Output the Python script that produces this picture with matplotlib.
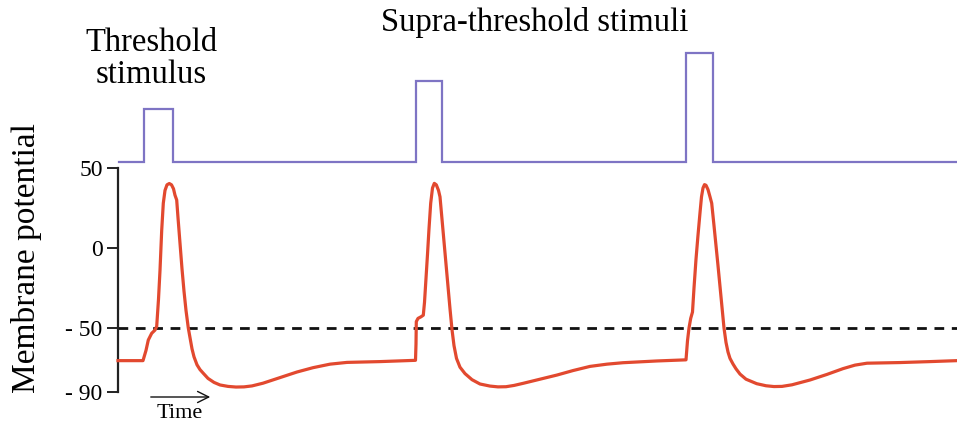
import matplotlib
matplotlib.use("Agg")
import matplotlib.pyplot as plt

plt.rcParams['font.family'] = ['Liberation Serif', 'DejaVu Serif']
plt.rcParams['lines.scale_dashes'] = False

# Membrane potential trace (time in arbitrary units, potential in mV)
time = [118, 143, 146, 148.3, 151.7, 155, 156.7, 158.5, 160, 161.7, 163.3, 165, 167, 169.3, 171.5, 173.5,
        175, 176.7, 178, 180, 182, 184, 186, 188.3, 190, 192, 194, 197, 200, 203.3, 208, 214, 220, 228,
        236, 244, 252, 263, 280, 297, 313, 330, 347, 380, 415.5,
        416, 416.3, 418, 421, 423.3, 424.5, 426, 427.5, 429, 430.7, 432.5, 434.3, 436.3, 438.5, 440,
        442, 444, 446, 448, 450, 452, 454, 456.5, 460, 465, 472, 480, 490, 498, 506, 514, 523, 540, 557,
        573, 590, 607, 623, 657, 686,
        687.5, 689, 690.7, 692.5, 694, 696, 698, 700, 701.5, 703, 704.5, 706, 708, 710, 711.7, 714, 716,
        718, 720, 722, 724, 726, 728, 730, 733, 736, 740, 746, 756.7, 766, 774, 782, 792, 810, 827, 843,
        855, 867, 900, 930, 957]
potential = [-70.4, -70.4, -64, -57.5, -53.3, -51.3, -49, -32, -14, 11, 28, 36, 39.5, 40.3, 39.5, 37,
             33, 30, 19, 3, -13, -27, -39, -50, -56, -63, -68, -73, -76, -78.3, -81.5, -84, -85.6, -86.5,
             -86.9, -86.8, -86.2, -84.5, -81, -77.5, -74.8, -72.6, -71.5, -71, -70.2,
             -60, -46, -44, -43, -42, -34, -19, -4, 12, 28, 37.5, 40.4, 39.5, 36, 32,
             18, 4, -10, -24, -38, -51, -61, -69, -74.5, -78.5, -82.3, -85, -86.3, -86.8, -86.7, -85.9,
             -84.6, -82, -79.4, -76.6, -74, -72.6, -71.7, -70.6, -69.9,
             -58, -50, -44, -40, -25, -7, 8, 22, 32, 37.5, 39.6, 39.2, 36.5, 32, 28, 14, 1.5,
             -11, -24, -37, -50, -59, -65, -69, -72.5, -75.5, -78.8, -82, -84.8, -86.1, -86.6, -86.5,
             -85.5, -82.5, -79, -75.4, -73.2, -72, -71.6, -71, -70.4]

# Stimulus trace
stim_time = [119, 143.5, 143.5, 172.5, 172.5, 416, 416, 441.5, 441.5, 686, 686, 713.3, 713.3, 957]
stim_level = [54, 54, 86.8, 86.8, 54, 54, 104.6, 104.6, 54, 54, 121.8, 121.8, 54, 54]

threshold = -50
yticks = [50, 0, -50, -90]
ytick_labels = ['50', '0', '- 50', '- 90']

fig = plt.figure(figsize=(9.57, 4.25), dpi=100)
ax = fig.add_axes([118 / 957, 33 / 425, 839 / 957, 352 / 425])
ax.set_xlim(118, 957)
ax.set_ylim(-90, 130)

ax.plot(stim_time, stim_level, color='#7E74C4', lw=1.6, solid_joinstyle='miter', clip_on=False)
ax.plot([118, 957], [threshold, threshold], color='#111111', lw=2.0, dashes=(7, 5.5), clip_on=False)
ax.plot(time, potential, color='#E2492F', lw=2.3, clip_on=False, zorder=3)

for s in ['top', 'right', 'bottom']:
    ax.spines[s].set_visible(False)
ax.spines['left'].set_bounds(-90, 50)
ax.spines['left'].set_linewidth(1.6)
ax.spines['left'].set_color('#222222')
ax.set_xticks([])
ax.set_yticks(yticks)
ax.set_yticklabels(ytick_labels, fontsize=17)
ax.tick_params(axis='y', length=8, width=1.4, color='#222222', pad=3)

fig.text(27 / 957, 1 - 258 / 425, 'Membrane potential', rotation=90, ha='center', va='center', fontsize=24)
fig.text(151 / 957, 1 - 59 / 425, 'Threshold\nstimulus', ha='center', va='center', fontsize=23.5,
         linespacing=1.05)
fig.text(535 / 957, 1 - 23 / 425, 'Supra-threshold stimuli', ha='center', va='center', fontsize=23.5)
fig.text(180 / 957, 1 - 413 / 425, 'Time', ha='center', va='center', fontsize=16)
fig.patches.append(matplotlib.patches.FancyArrowPatch((148 / 957, 1 - 397 / 425), (213 / 957, 1 - 397 / 425),
                                                      transform=fig.transFigure, arrowstyle='->,head_length=8,head_width=4',
                                                      color='#111111', lw=1.0, mutation_scale=1))

fig.savefig('out.png', dpi=100)
